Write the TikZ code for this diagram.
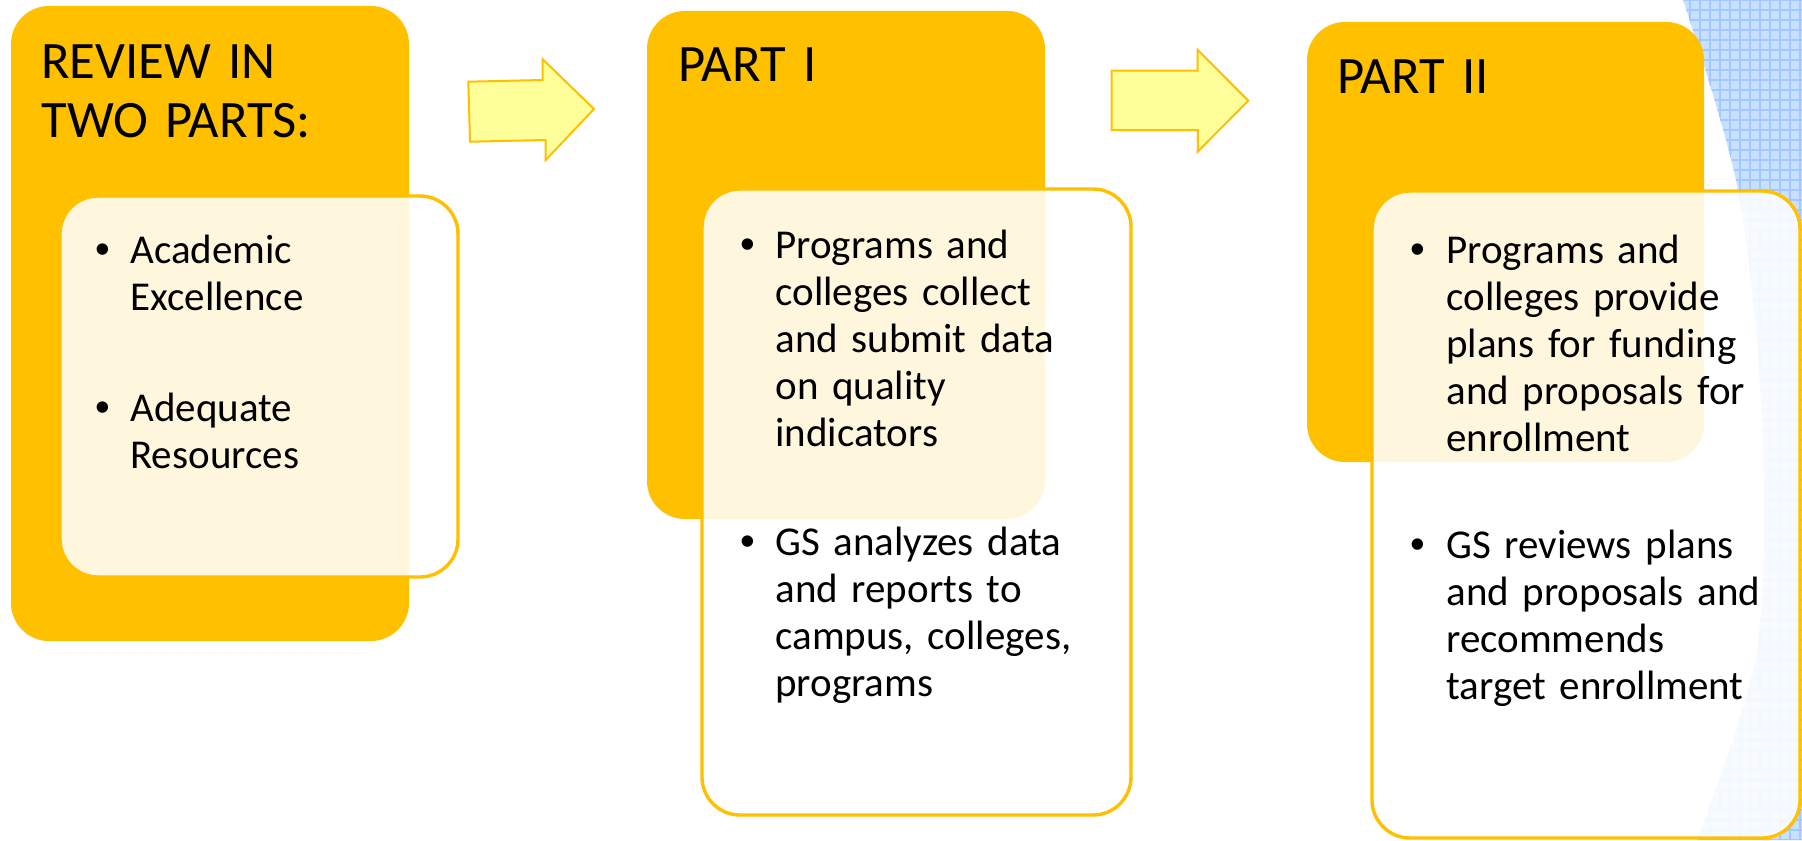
\documentclass[tikz,border=0pt]{standalone}
\usepackage{fontspec}
\setmainfont{Carlito}
\newfontfamily\bulletfont{Liberation Sans}
\definecolor{gold}{HTML}{FFC000}
\definecolor{pale}{HTML}{FFFF99}
\definecolor{skyfill}{HTML}{C8E0FF}
\definecolor{skyline}{HTML}{A3C8FF}
\begin{document}
\begin{tikzpicture}[x=0.5pt,y=-0.5pt,
  outer/.style={fill=gold, rounded corners=19pt},
  inner/.style={draw=gold, line width=1.7pt, fill=white, fill opacity=0.87, rounded corners=19pt},
  blockarrow/.style={draw=gold, line width=1pt, fill=pale, line join=miter},
  title/.style={anchor=base west, inner sep=0pt, align=left, text width=200pt, font=\fontsize{26.3}{29}\selectfont},
  item/.style={anchor=base west, inner sep=0pt, align=left, text width=190pt, font=\fontsize{20.5}{23.5}\selectfont},
  dot/.style={anchor=base, inner sep=0pt, font=\bulletfont\fontsize{21}{23.5}\selectfont}]
\useasboundingbox (0,0) rectangle (1802,840);
\fill[white] (0,0) rectangle (1802,840);
% blue background shape
\begin{scope}
\clip plot[smooth] coordinates {(1683,0) (1738,190) (1762,420) (1757,650) (1697,840)} -- (1802,840) -- (1802,0) -- cycle;
\fill[skyfill] (1670,0) rectangle (1802,840);
\foreach \i in {1680,1690,...,1800} \draw[skyline, line width=0.6pt] (\i,0) -- (\i,840);
\foreach \j in {0,10,...,840} \draw[skyline, line width=0.6pt] (1670,\j) -- (1802,\j);
\end{scope}
% orange boxes
\fill[outer] (11,6) rectangle (409,641);
\fill[outer] (647,11) rectangle (1045,519);
\fill[outer] (1307,22) rectangle (1704,462);
% inner boxes
\draw[inner] (60,196) rectangle (458,577);
\draw[inner] (702,189) rectangle (1131,815);
\draw[inner] (1372,191) rectangle (1800,838);
% block arrows
\draw[blockarrow] (468.3,81.7) -- (542.7,80) -- (542.7,59.3) -- (594,109) -- (545.7,160) -- (545.7,140) -- (470,141.7) -- cycle;
\draw[blockarrow] (1111.7,70.7) -- (1197.7,70.7) -- (1197.7,50) -- (1248.3,100.7) -- (1197.7,151.7) -- (1198,130) -- (1111.7,130) -- cycle;
% titles
\node[title] (t1) at (41,79) {REVIEW IN\\TWO PARTS:};
\node[title] (t2) at (678,82) {PART I};
\node[title] (t3) at (1337,94) {PART II};
% box 1 items
\node[dot] (d1a) at (103,263) {•};
\node[item] (a1) at (130,263) {Academic\\Excellence};
\node[dot] (d1b) at (103,421) {•};
\node[item] (a2) at (130,421) {Adequate\\Resources};
% box 2 items
\node[dot] (d2a) at (748,258) {•};
\node[item] (b1) at (775,258) {Programs and\\colleges collect\\and submit data\\on quality\\indicators};
\node[dot] (d2b) at (748,555) {•};
\node[item] (b2) at (775,555) {GS analyzes data\\and reports to\\campus, colleges,\\programs};
% box 3 items
\node[dot] (d3a) at (1418,263) {•};
\node[item] (c1) at (1446,263) {Programs and\\colleges provide\\plans for funding\\and proposals for\\enrollment};
\node[dot] (d3b) at (1418,558) {•};
\node[item] (c2) at (1446,558) {GS reviews plans\\and proposals and\\recommends\\target enrollment};
\end{tikzpicture}
\end{document}
